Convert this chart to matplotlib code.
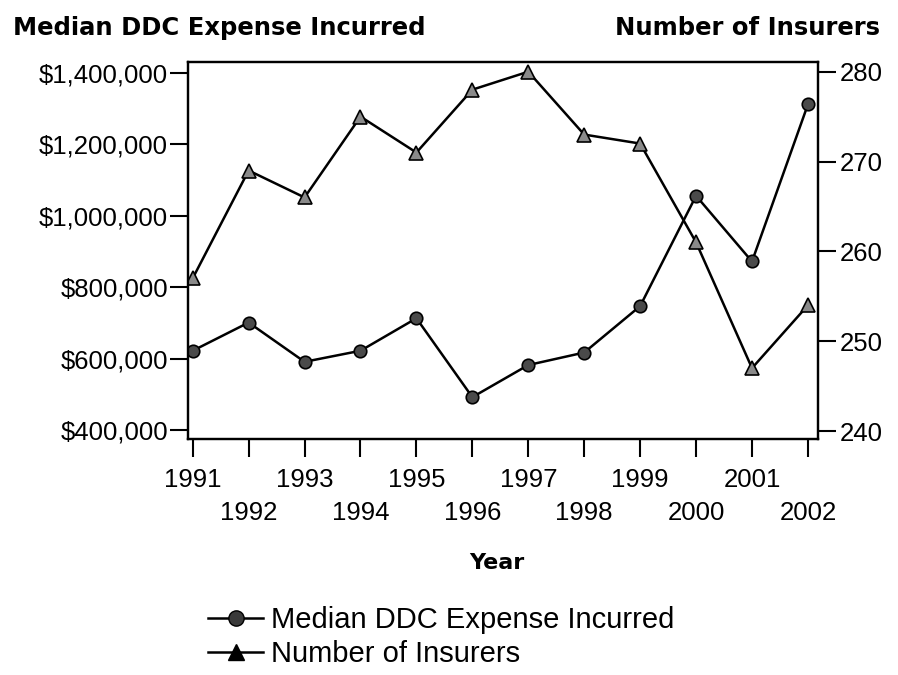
import matplotlib
matplotlib.use("Agg")
import matplotlib.pyplot as plt

# data
years = [1991, 1992, 1993, 1994, 1995, 1996, 1997, 1998, 1999, 2000, 2001, 2002]
median_ddc = [622000, 701000, 591000, 622000, 713000, 492000,
              582000, 617000, 747000, 1056000, 872000, 1312000]
num_insurers = [257, 269, 266, 275, 271, 278, 280, 273, 272, 261, 247, 254]

left_ticks = [400000, 600000, 800000, 1000000, 1200000, 1400000]
left_labels = ["$400,000", "$600,000", "$800,000", "$1,000,000", "$1,200,000", "$1,400,000"]
right_ticks = [240, 250, 260, 270, 280]
year_labels = [str(y) if y % 2 else "\n" + str(y) for y in years]

plt.rcParams['font.family'] = ['Liberation Sans', 'DejaVu Sans']

fig = plt.figure(figsize=(8.98, 6.75), dpi=100)
ax = fig.add_axes([188/898, 1 - 439/675, 630/898, 377/675])
ax2 = ax.twinx()

l1, = ax.plot(years, median_ddc, color='black', lw=1.8, marker='o', ms=9,
              mfc='#4a4a4a', mec='black', mew=1.2, label='Median DDC Expense Incurred')
l2, = ax2.plot(years, num_insurers, color='black', lw=1.8, marker='^', ms=10,
               mfc='#8a8a8a', mec='black', mew=1.2, label='Number of Insurers')

ax.set_xlim(1990.916, 2002.18)
ax.set_ylim(374800, 1430800)
ax2.set_ylim(239.11, 281.08)

ax.set_xticks(years)
ax.set_xticklabels(year_labels, fontsize=18.5, linespacing=1.45)
ax.set_yticks(left_ticks)
ax.set_yticklabels(left_labels, fontsize=18.5)
ax2.set_yticks(right_ticks)
ax2.set_yticklabels([str(t) for t in right_ticks], fontsize=18.5)

ax.tick_params(axis='x', direction='out', length=13, width=1.5, pad=8)
ax.tick_params(axis='y', direction='out', length=13, width=1.5, pad=1.5)
ax2.tick_params(axis='y', direction='out', length=13, width=1.5, pad=3)

for a in (ax, ax2):
    for s in a.spines.values():
        s.set_linewidth(1.6)

# axis titles
fig.text(13/898, 1 - 35/675, 'Median DDC Expense Incurred', family='DejaVu Sans',
         weight='bold', fontsize=17.5, va='baseline', ha='left')
fig.text(880/898, 1 - 35/675, 'Number of Insurers', family='DejaVu Sans',
         weight='bold', fontsize=17.5, va='baseline', ha='right')
fig.text(497/898, 1 - 563/675, 'Year', family='DejaVu Sans',
         weight='bold', fontsize=16, va='center', ha='center')

leg_l2, = ax2.plot([], [], color='black', lw=1.8, marker='^', ms=11,
                   mfc='black', mec='black')
leg_l1, = ax.plot([], [], color='black', lw=1.8, marker='o', ms=11,
                  mfc='#3a3a3a', mec='black')
fig.legend([leg_l1, leg_l2], ['Median DDC Expense Incurred', 'Number of Insurers'],
           loc='upper left', bbox_to_anchor=(208/898, 1 - 606/675), frameon=False,
           fontsize=21, handlelength=1.9, handletextpad=0.25, labelspacing=0.2,
           borderpad=0, borderaxespad=0)

fig.savefig('out.png', dpi=100, facecolor='white')
